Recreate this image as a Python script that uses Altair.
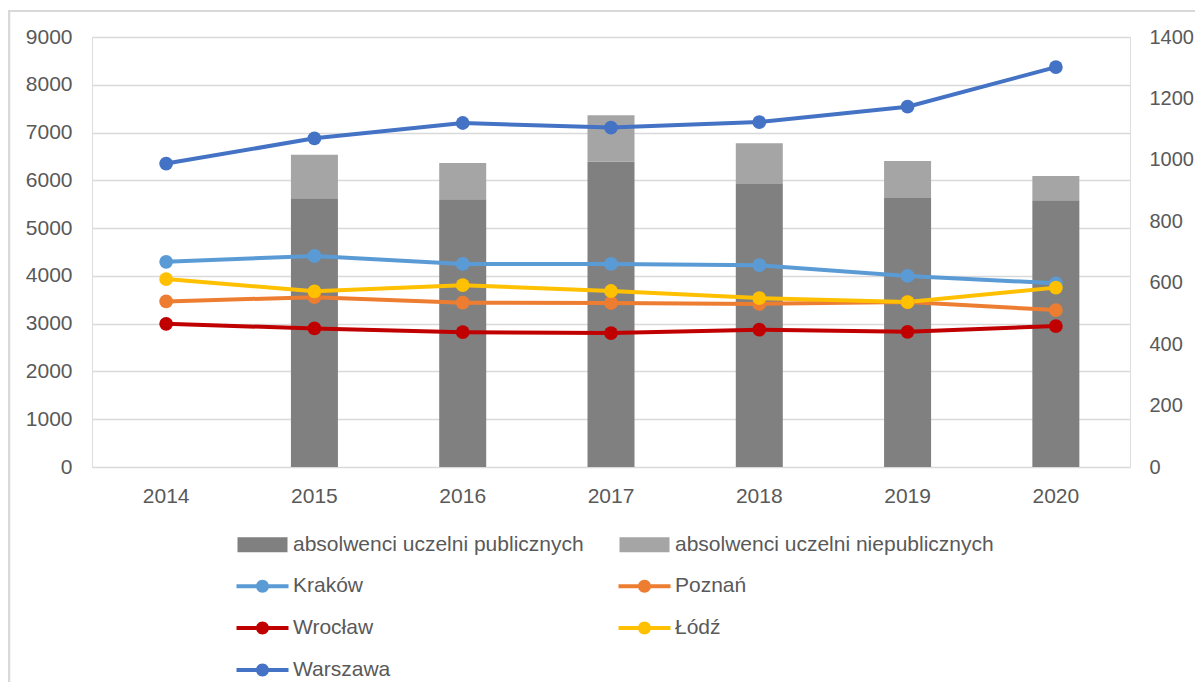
import altair as alt
import pandas as pd

# ---------------- data ----------------
years = ["2014", "2015", "2016", "2017", "2018", "2019", "2020"]
bar_years = ["2015", "2016", "2017", "2018", "2019", "2020"]
public = [5624, 5603, 6393, 5925, 5632, 5582]
nonpublic = [909, 762, 970, 852, 775, 511]

krakow = [668, 687, 661, 661, 657, 622, 598]
poznan = [539, 553, 535, 534, 531, 537, 511]
wroclaw = [466, 451, 439, 436, 447, 440, 459]
lodz = [612, 572, 592, 573, 550, 537, 584]
warszawa = [988, 1070, 1120, 1105, 1123, 1173, 1302]

bar_series = ["absolwenci uczelni publicznych", "absolwenci uczelni niepublicznych"]
city_series = ["Kraków", "Poznań", "Wrocław", "Łódź", "Warszawa"]
city_colors = ["#5B9BD5", "#ED7D31", "#C00000", "#FFC000", "#4472C4"]
bar_colors = ["#808080", "#A5A5A5"]

# legend fills column by column: order entries so the grid reads row by row
legend_order = [bar_series[0], city_series[0], city_series[2], city_series[4],
                bar_series[1], city_series[1], city_series[3]]
color_of = dict(zip(bar_series + city_series, bar_colors + city_colors))
colors = [color_of[s] for s in legend_order]

bar_df = pd.DataFrame({
    "rok": bar_years * 2,
    "seria": [bar_series[0]] * len(bar_years) + [bar_series[1]] * len(bar_years),
    "wartosc": public + nonpublic,
})

city_values = [krakow, poznan, wroclaw, lodz, warszawa]
line_rows = []
for name, vals in zip(city_series, city_values):
    for y, v in zip(years, vals):
        line_rows.append({"rok": y, "seria": name, "wartosc": v})
line_df = pd.DataFrame(line_rows)

legend_df = pd.DataFrame({"seria": legend_order})

# ---------------- styling ----------------
FONT = "Liberation Sans"
TXT = "#595959"
GRID = "#D9D9D9"
FS = 21

bar_path = "M-2.5,-0.75 L2.5,-0.75 L2.5,0.75 L-2.5,0.75 Z"
line_path = ("M-2.6,-0.2 L2.6,-0.2 L2.6,0.2 L-2.6,0.2 Z "
             "M-0.65,0 A0.65,0.65 0 1,1 0.65,0 A0.65,0.65 0 1,1 -0.65,0 Z")
shapes = [bar_path if s in bar_series else line_path for s in legend_order]

LEG = alt.Legend(title=None, orient="none", legendX=160, legendY=497,
                 columns=2, symbolSize=400, labelFontSize=FS, labelColor=TXT,
                 labelFont=FONT, labelOffset=20, columnPadding=34,
                 rowPadding=19.8, labelLimit=600, padding=0,
                 symbolStrokeWidth=0, symbolOpacity=1)

color_scale = alt.Scale(domain=legend_order, range=colors)
color_enc = alt.Color("seria:N", scale=color_scale, legend=LEG)

x_enc = alt.X("rok:N", scale=alt.Scale(domain=years, paddingInner=0, paddingOuter=0),
              axis=alt.Axis(title=None, labelAngle=0, ticks=False, domain=False,
                            labelPadding=18, labelFontSize=FS, labelColor=TXT, labelFont=FONT))

bars = alt.Chart(bar_df).transform_calculate(
    kolej=f"indexof({bar_series!r}, datum.seria)"
).mark_bar(size=47).encode(
    x=x_enc,
    y=alt.Y("wartosc:Q", stack="zero", scale=alt.Scale(domain=[0, 9000]),
            axis=alt.Axis(title=None, values=list(range(0, 9001, 1000)), format="d",
                          ticks=False, domain=False,
                          gridColor=GRID, gridWidth=1.3, labelPadding=20, labelFontSize=FS,
                          labelColor=TXT, labelFont=FONT, orient="left")),
    color=color_enc,
    order=alt.Order("kolej:Q"),
)

y_right = alt.Y("wartosc:Q", scale=alt.Scale(domain=[0, 1400]),
                axis=alt.Axis(title=None, values=list(range(0, 1401, 200)), format="d",
                              ticks=False, domain=False,
                              grid=False, labelPadding=19, labelFontSize=20, labelColor=TXT,
                              labelFont=FONT, orient="right"))

lines = alt.Chart(line_df).mark_line(strokeWidth=4).encode(
    x=x_enc, y=y_right,
    color=color_enc,
    detail="seria:N",
)
points = alt.Chart(line_df).mark_circle(size=190, opacity=1).encode(
    x=x_enc, y=y_right,
    color=color_enc,
)

legend_layer = alt.Chart(legend_df).transform_filter("false").mark_point(filled=True, opacity=1).encode(
    color=color_enc,
    shape=alt.Shape("seria:N", scale=alt.Scale(domain=legend_order, range=shapes), legend=LEG),
)

one = pd.DataFrame({"a": [0]})
border_top = alt.Chart(one).mark_rule(color=GRID, strokeWidth=2).encode(
    x=alt.value(-84), x2=alt.value(1130), y=alt.value(-26))
border_left = alt.Chart(one).mark_rule(color=GRID, strokeWidth=2.5).encode(
    x=alt.value(-83), y=alt.value(-27), y2=alt.value(700))

chart = alt.layer(
    bars,
    alt.layer(lines, points, legend_layer),
    border_top, border_left,
).resolve_scale(y="independent").properties(
    width=1038, height=430,
    autosize=alt.AutoSizeParams(type="none"),
    padding={"left": 84, "top": 29, "right": 65, "bottom": 215},
).configure_view(stroke=None).configure(font=FONT)

chart.save("out.html", embed_options={"renderer": "svg", "actions": False})
